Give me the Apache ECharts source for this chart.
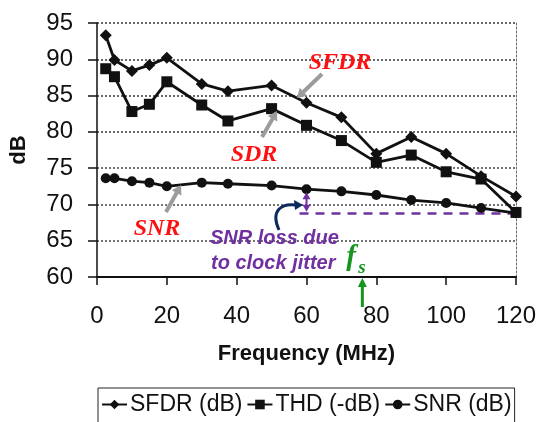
<!DOCTYPE html>
<html>
<head>
<meta charset="utf-8">
<script src="https://cdn.jsdelivr.net/npm/echarts@6/dist/echarts.min.js"></script>
<style>
html,body{margin:0;padding:0;background:#fff;}
#c{width:539px;height:422px;}
</style>
</head>
<body>
<div id="c"></div>
<script>
// ---- data ----
var freq = [2.5, 5, 10, 15, 20, 30, 37.5, 50, 60, 70, 80, 90, 100, 110, 120];
var sfdr = [93.3, 89.9, 88.4, 89.2, 90.2, 86.6, 85.6, 86.4, 84.0, 82.0, 77.0, 79.3, 77.0, 73.9, 71.1];
var thd  = [88.7, 87.6, 82.8, 83.8, 86.9, 83.7, 81.5, 83.2, 80.9, 78.8, 75.8, 76.8, 74.5, 73.5, 68.9];
var snr  = [73.6, 73.6, 73.2, 73.0, 72.5, 73.0, 72.85, 72.6, 72.1, 71.8, 71.3, 70.6, 70.2, 69.5, 68.8];
var xTicks = [0, 20, 40, 60, 80, 100, 120];
var yTicks = [60, 65, 70, 75, 80, 85, 90, 95];
var seriesNames = ['SFDR (dB)', 'THD (-dB)', 'SNR (dB)'];
var fsFreq = 76;          // sampling frequency marker
var jitterFrom = 60;      // SNR loss annotation start frequency
var jitterLevel = 68.85;  // SNR at fs/2 edge

function pairs(xs, ys){ return xs.map(function(x,i){ return [x, ys[i]]; }); }

var chart = echarts.init(document.getElementById('c'));
var FONT = 'Liberation Sans';
var LINE = '#111';

var option = {
  animation: false,
  backgroundColor: '#fff',
  textStyle: { fontFamily: FONT },
  grid: { left: 97, right: 20, top: 23, bottom: 145, containLabel: false },
  legend: {
    data: seriesNames,
    left: 98, top: 388,
    orient: 'horizontal',
    itemWidth: 25, itemHeight: 12, itemGap: 4,
    padding: [5, 3, 30, 3],
    borderColor: '#222', borderWidth: 1,
    textStyle: { fontSize: 23, color: '#111', fontFamily: FONT, padding: [0, 0, 0, -2] },
    selectedMode: false
  },
  xAxis: {
    type: 'value', min: xTicks[0], max: xTicks[xTicks.length-1], interval: 20,
    name: 'Frequency (MHz)', nameLocation: 'middle', nameGap: 66,
    nameTextStyle: { fontSize: 22, fontWeight: 'bold', color: '#111', fontFamily: FONT },
    axisLine: { show: true, onZero: false, lineStyle: { color: '#111', width: 1.8 } },
    axisTick: { show: true, length: 8, lineStyle: { color: '#111', width: 1.5 } },
    axisLabel: { fontSize: 24, color: '#111', margin: 27, fontFamily: FONT },
    splitLine: { show: false }
  },
  yAxis: [{
    type: 'value', min: yTicks[0], max: yTicks[yTicks.length-1], interval: 5,
    name: 'dB', nameLocation: 'middle', nameGap: 67, nameRotate: 90,
    nameTextStyle: { fontSize: 22, fontWeight: 'bold', color: '#111', fontFamily: FONT },
    axisLine: { show: true, lineStyle: { color: '#111', width: 1.5 } },
    axisTick: { show: true, length: 9, lineStyle: { color: '#111', width: 1.5 } },
    axisLabel: { fontSize: 24, color: '#111', margin: 24, fontFamily: FONT },
    splitLine: { show: true, lineStyle: { color: '#444', width: 1.6, type: [2, 2] } }
  }, {
    type: 'value', min: yTicks[0], max: yTicks[yTicks.length-1], interval: 5, position: 'right',
    axisLine: { show: true, lineStyle: { color: '#666', width: 1, type: [2, 2] } },
    axisTick: { show: false }, axisLabel: { show: false }, splitLine: { show: false }
  }],
  series: [
    { name: seriesNames[0], type: 'line', data: pairs(freq, sfdr), symbol: 'diamond', symbolSize: 12,
      lineStyle: { color: LINE, width: 2.8 }, itemStyle: { color: LINE }, z: 5 },
    { name: seriesNames[1], type: 'line', data: pairs(freq, thd), symbol: 'rect', symbolSize: 11,
      lineStyle: { color: LINE, width: 2.8 }, itemStyle: { color: LINE }, z: 5 },
    { name: seriesNames[2], type: 'line', data: pairs(freq, snr), symbol: 'circle', symbolSize: 10,
      lineStyle: { color: LINE, width: 2.8 }, itemStyle: { color: LINE }, z: 5,
      markLine: {
        silent: true, symbol: ['none', 'none'], label: { show: false },
        lineStyle: { color: '#7030a0', width: 2.5, type: [9, 7] },
        data: [[{ coord: [jitterFrom - 2, jitterLevel] }, { coord: [120, jitterLevel] }]]
      } }
  ]
};
chart.setOption(option);

function px(x, y){ return chart.convertToPixel({ gridIndex: 0 }, [x, y]); }

function arrow(x1, y1, x2, y2, color, w, hl, hw){
  var dx = x2 - x1, dy = y2 - y1, L = Math.sqrt(dx*dx + dy*dy);
  var ux = dx / L, uy = dy / L;
  var bx = x2 - ux * hl, by = y2 - uy * hl;
  return [
    { type: 'line', shape: { x1: x1, y1: y1, x2: bx + ux, y2: by + uy }, style: { stroke: color, lineWidth: w }, z: 20 },
    { type: 'polygon', shape: { points: [[x2, y2], [bx - uy * hw, by + ux * hw], [bx + uy * hw, by - ux * hw]] },
      style: { fill: color }, z: 20 }
  ];
}

var g = [];
var gray = '#9c9c9c';
g = g.concat(arrow(322, 74, 297, 98, gray, 4, 9, 5.5));
g = g.concat(arrow(262, 137, 277, 111, gray, 4, 9, 5.5));
g = g.concat(arrow(166, 212, 181, 185, gray, 4, 9, 5.5));

var redStyle = { fill: '#ff1010', fontSize: 24, fontWeight: 'bold', fontStyle: 'italic', fontFamily: 'Liberation Serif', align: 'center', verticalAlign: 'middle' };
g.push({ type: 'text', x: 340, y: 63, style: Object.assign({ text: 'SFDR' }, redStyle), z: 20 });
g.push({ type: 'text', x: 254, y: 155, style: Object.assign({ text: 'SDR' }, redStyle), z: 20 });
g.push({ type: 'text', x: 157, y: 229, style: Object.assign({ text: 'SNR' }, redStyle), z: 20 });

var purple = '#7030a0';
var pStyle = { fill: purple, fontSize: 20, fontWeight: 'bold', fontStyle: 'italic', fontFamily: FONT, align: 'left', verticalAlign: 'middle' };
g.push({ type: 'text', x: 210, y: 238, style: Object.assign({ text: 'SNR loss due' }, pStyle), z: 20 });
g.push({ type: 'text', x: 211, y: 263, style: Object.assign({ text: 'to clock jitter' }, pStyle), z: 20 });

// vertical double arrow for SNR loss
var pTop = px(jitterFrom, snr[8]);
var pBot = px(jitterFrom, jitterLevel);
var midY = (pTop[1] + pBot[1]) / 2;
g = g.concat(arrow(pTop[0], midY, pTop[0], pTop[1] + 3, purple, 2, 7, 4));
g = g.concat(arrow(pTop[0], midY, pTop[0], pBot[1] - 1, purple, 2, 7, 4));

// curved navy arrow
var navy = '#0c2a5c';
g.push({ type: 'bezierCurve', shape: { x1: 279, y1: 230, x2: 296, y2: 205, cpx1: 270, cpy1: 210, cpx2: 282, cpy2: 203 },
  style: { stroke: navy, lineWidth: 3, fill: null }, z: 20 });
g.push({ type: 'polygon', shape: { points: [[303, 205], [294, 200], [295, 210]] }, style: { fill: navy }, z: 20 });

// fs marker
var green = '#14961e';
var fsPx = px(fsFreq, 60);
g.push({ type: 'text', x: fsPx[0] - 16, y: 258, style: { text: 'f', fill: green, fontSize: 29, fontStyle: 'italic', fontWeight: 'bold', fontFamily: 'Liberation Serif', align: 'left', verticalAlign: 'middle' }, z: 20 });
g.push({ type: 'text', x: fsPx[0] - 4, y: 268, style: { text: 's', fill: green, fontSize: 19, fontStyle: 'italic', fontWeight: 'bold', fontFamily: 'Liberation Serif', align: 'left', verticalAlign: 'middle' }, z: 20 });
g = g.concat(arrow(fsPx[0], fsPx[1] + 30, fsPx[0], fsPx[1] + 1, green, 3, 9, 4.5));

chart.setOption({ graphic: g });
</script>
</body>
</html>
